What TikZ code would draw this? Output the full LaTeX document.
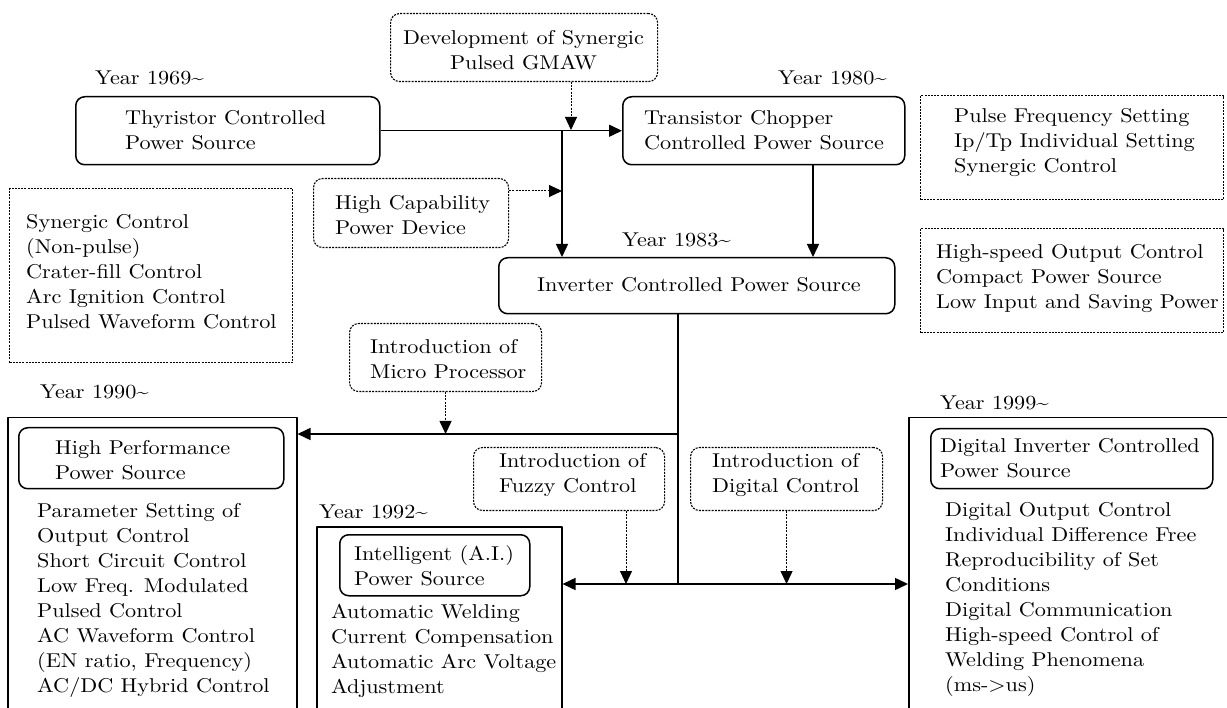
\documentclass[tikz,border=0pt]{standalone}
\usepackage{fontspec}
\setmainfont{lmroman10-regular.otf}[FakeStretch=1.11]
\usetikzlibrary{arrows.meta}
\begin{document}
\begin{tikzpicture}[x=1pt,y=-1pt,line join=round,
 base/.style={font=\fontsize{20}{25}\selectfont},
 txt/.style={base, inner sep=0pt, align=left, anchor=west},
 ctxt/.style={base, inner sep=0pt, align=center},
 rbox/.style={draw, line width=1.5pt, rounded corners=9pt, inner sep=0pt, anchor=north west},
 dbox/.style={draw, line width=1.1pt, dash pattern=on 2pt off 1.2pt, rounded corners=9pt, inner sep=0pt, anchor=north west},
 dsq/.style={draw, line width=1.1pt, dash pattern=on 2pt off 1.2pt, inner sep=0pt, anchor=north west},
 sq/.style={draw, line width=1.5pt, inner sep=0pt, anchor=north west},
 conn/.style={line width=1.5pt, -{Triangle[length=13pt,width=12pt]}},
 dconn/.style={line width=1pt, dash pattern=on 2pt off 1.2pt, -{Triangle[length=13pt,width=12pt]}},
 plain/.style={line width=1.5pt},
]
\useasboundingbox (0,0) rectangle (1227,708);

% boxes
\node[dbox, minimum width=267pt, minimum height=68pt] (dev) at (390,13) {};
\node[rbox, minimum width=304pt, minimum height=68pt] (thy) at (75,96) {};
\node[rbox, minimum width=282pt, minimum height=68pt] (trans) at (622,96) {};
\node[dbox, minimum width=195pt, minimum height=69pt] (hc) at (313,178) {};
\node[rbox, minimum width=396pt, minimum height=56pt] (inv) at (498,257) {};
\node[dsq, minimum width=283pt, minimum height=174pt] (lst) at (9,188) {};
\node[dsq, minimum width=303pt, minimum height=104pt] (r1) at (920,95) {};
\node[dsq, minimum width=303pt, minimum height=104pt] (r2) at (920,228) {};
\node[dbox, minimum width=192pt, minimum height=68pt] (micro) at (349,323) {};
\node[dbox, minimum width=191pt, minimum height=63pt] (fuzzy) at (473,447) {};
\node[dbox, minimum width=192pt, minimum height=63pt] (digi) at (690,447) {};
\node[sq, minimum width=289pt, minimum height=300pt] (hpbig) at (7,417) {};
\node[rbox, minimum width=265pt, minimum height=61pt] (hp) at (18,427) {};
\node[sq, minimum width=245pt, minimum height=190pt] (aibig) at (316,526) {};
\node[rbox, minimum width=190pt, minimum height=61pt] (ai) at (339,534) {};
\node[sq, minimum width=330pt, minimum height=300pt] (dibig) at (908,417) {};
\node[rbox, minimum width=282pt, minimum height=60pt] (di) at (930,428) {};

% texts
\node[ctxt] (devt) at (523.5,50) {Development of Synergic\\Pulsed GMAW};
\node[txt] (y69) at (95,78) {Year 1969\textasciitilde};
\node[txt] (y80) at (778,78) {Year 1980\textasciitilde};
\node[txt] (y83) at (622,240) {Year 1983\textasciitilde};
\node[txt] (y90) at (40,392) {Year 1990\textasciitilde};
\node[txt] (y92) at (319,512) {Year 1992\textasciitilde};
\node[txt] (y99) at (940,403) {Year 1999\textasciitilde};
\node[txt] (thyt) at (125,130) {Thyristor Controlled\\Power Source};
\node[txt] (transt) at (644,130) {Transistor Chopper\\Controlled Power Source};
\node[txt] (hct) at (335,215) {High Capability\\Power Device};
\node[ctxt] (invt) at (699,285) {Inverter Controlled Power Source};
\node[txt] (lstt) at (26,272) {Synergic Control\\(Non-pulse)\\Crater-fill Control\\Arc Ignition Control\\Pulsed Waveform Control};
\node[txt] (r1t) at (954,143) {Pulse Frequency Setting\\Ip/Tp Individual Setting\\Synergic Control};
\node[txt] (r2t) at (936,279) {High-speed Output Control\\Compact Power Source\\Low Input and Saving Power};
\node[txt] (microt) at (370,359) {Introduction of\\Micro Processor};
\node[txt] (fuzzyt) at (499,475) {Introduction of\\Fuzzy Control};
\node[txt] (digit) at (712,475) {Introduction of\\Digital Control};
\node[txt] (hpt) at (55,460) {High Performance\\Power Source};
\node[txt] (hpl) at (37,600) {Parameter Setting of\\Output Control\\Short Circuit Control\\Low Freq. Modulated\\Pulsed Control\\AC Waveform Control\\(EN ratio, Frequency)\\AC/DC Hybrid Control};
\node[txt] (ait) at (354,566) {Intelligent (A.I.)\\Power Source};
\node[txt] (ail) at (331,651) {Automatic Welding\\Current Compensation\\Automatic Arc Voltage\\Adjustment};
\node[txt] (dit) at (940,458) {Digital Inverter Controlled\\Power Source};
\node[txt] (dil) at (945,599) {Digital Output Control\\Individual Difference Free\\Reproducibility of Set\\Conditions\\Digital Communication\\High-speed Control of\\Welding Phenomena\\(ms->us)};

% junction coordinates
\coordinate (j0) at (571,130);
\coordinate (j1) at (562,130);
\coordinate (j3) at (562,191);
\coordinate (c813) at (813,200);
\coordinate (jv) at (678,434);
\coordinate (jb) at (678,584);
\coordinate (fx) at (626,584);

% connectors
\draw[conn] (thy.east) -- (trans.west);
\draw[dconn] (dev.south -| j0) -- (j0);
\draw[conn] (j1) -- (j1 |- inv.north);
\draw[dconn] (hc.east |- j3) -- (j3);
\draw[conn] (trans.south -| c813) -- (inv.north -| c813);
\draw[plain] (inv.south -| jv) -- (jb);
\draw[conn] (jv) -- (jv -| hpbig.east);
\draw[conn] (jb) -- (jb -| aibig.east);
\draw[conn] (jb) -- (jb -| dibig.west);
\draw[dconn] (micro.south) -- (micro.south |- jv);
\draw[dconn] (fuzzy.south -| fx) -- (fx);
\draw[dconn] (digi.south) -- (digi.south |- jb);
\end{tikzpicture}
\end{document}
